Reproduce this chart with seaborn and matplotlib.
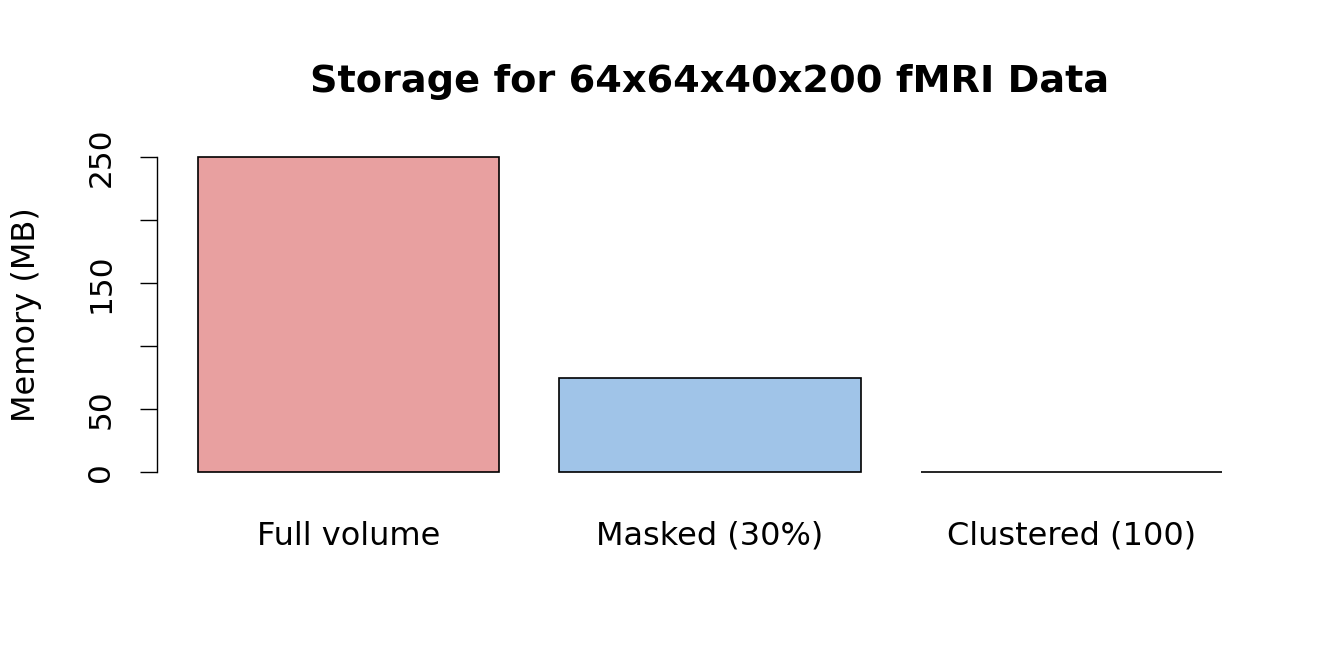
import matplotlib
matplotlib.use("Agg")
import matplotlib.pyplot as plt
import seaborn as sns
import pandas as pd

categories = ["Full volume", "Masked (30%)", "Clustered (100)"]
memory_mb = [250.0, 75.0, 0.15]
bar_colors = ["#E8A0A0", "#A0C4E8", "#A0C4A0"]
y_ticks = [0, 50, 100, 150, 200, 250]
y_ticklabels = ["0", "50", "", "150", "", "250"]

sns.set_theme(style="white")
plt.rcParams["font.family"] = ["DejaVu Sans"]
plt.rcParams["text.color"] = "black"
plt.rcParams["axes.labelcolor"] = "black"
plt.rcParams["xtick.color"] = "black"
plt.rcParams["ytick.color"] = "black"

df = pd.DataFrame({"cat": categories, "mem": memory_mb})

fig = plt.figure(figsize=(13.44, 6.72), dpi=100)
W, H = 1344, 672
left, right, top, bottom = 157, 1263, 144.4, 484.6
ax = fig.add_axes([left / W, 1 - bottom / H, (right - left) / W, (bottom - top) / H])

sns.barplot(data=df, x="cat", y="mem", hue="cat", palette=bar_colors, legend=False,
            width=1 / 1.2, edgecolor="black", linewidth=1.2, ax=ax, saturation=1)

# R-style xlim: bar edges extended by 4%
lo, hi = -5 / 12, 2 + 5 / 12
ext = (hi - lo) * 0.04
ax.set_xlim(lo - ext, hi + ext)
ax.set_ylim(-10, 260)

for s in ["top", "right", "bottom"]:
    ax.spines[s].set_visible(False)
ax.spines["left"].set_bounds(0, 250)
ax.spines["left"].set_color("black")
ax.spines["left"].set_linewidth(1.0)

ax.set_yticks(y_ticks)
ax.set_yticklabels(y_ticklabels, rotation=90, va="center", fontsize=22.5)
ax.tick_params(axis="y", left=True, length=12, width=1.0, color="black", pad=18)
ax.tick_params(axis="x", bottom=False, labelsize=23, pad=20)

ax.set_xlabel("")
ax.set_ylabel("Memory (MB)", fontsize=23)
ax.yaxis.set_label_coords(-0.104, 0.5)
ax.set_title("Storage for 64x64x40x200 fMRI Data", fontsize=27.5, fontweight="bold", pad=38)

fig.savefig("out.png", dpi=100, facecolor="white")
